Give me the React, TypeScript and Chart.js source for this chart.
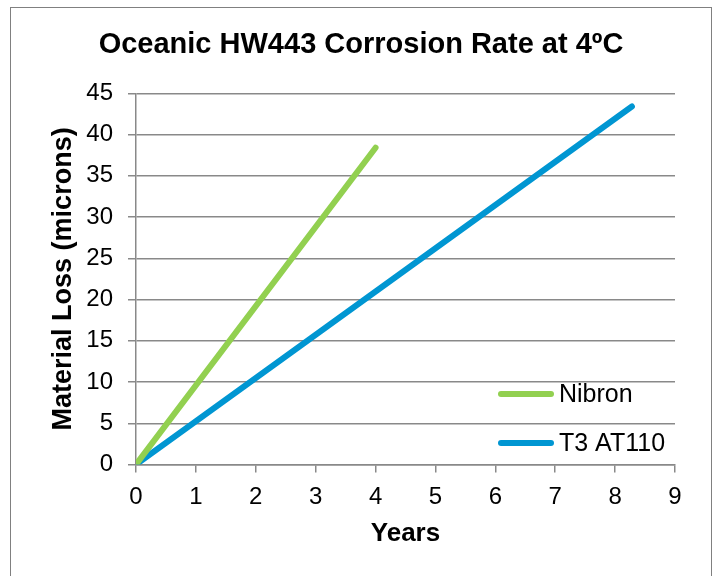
import React, { useEffect, useRef } from "react";
import { Chart, registerables } from "chart.js";

Chart.register(...registerables);

const chartTitle = "Oceanic HW443 Corrosion Rate at 4ºC";
const xTitle = "Years";
const yTitle = "Material Loss (microns)";

const seriesNames = ["Nibron", "T3 AT110"];
const seriesColors = ["#92D050", "#0096D2"];

const nibronYears = [0, 4.0];
const nibronLoss = [0, 38.4];
const t3Years = [0, 8.28];
const t3Loss = [0, 43.4];

const FONT = '"Liberation Sans", Arial, sans-serif';
const GRID = "#898989";

const legendPlugin = {
  id: "insideLegend",
  afterDraw(chart: any) {
    const { ctx, chartArea } = chart;
    ctx.save();
    ctx.font = `25px ${FONT}`;
    ctx.textBaseline = "middle";
    ctx.textAlign = "left";
    chart.data.datasets.forEach((ds: any, i: number) => {
      const y = chartArea.bottom - 70.5 + i * 49;
      const x0 = chartArea.right - 174;
      ctx.strokeStyle = ds.borderColor;
      ctx.lineWidth = 6;
      ctx.lineCap = "round";
      ctx.beginPath();
      ctx.moveTo(x0, y);
      ctx.lineTo(x0 + 50, y);
      ctx.stroke();
      ctx.fillStyle = "#000";
      ctx.fillText(ds.label, x0 + 58, y + 1);
    });
    ctx.restore();
  },
};

export default function App() {
  const ref = useRef<HTMLCanvasElement>(null);
  useEffect(() => {
    document.documentElement.style.overflow = "hidden";
    document.body.style.overflow = "hidden";
    const canvas = ref.current!;
    const toPts = (xs: number[], ys: number[]) => xs.map((x, i) => ({ x, y: ys[i] }));
    const chart = new Chart(canvas, {
      type: "line",
      data: {
        datasets: [
          {
            label: seriesNames[0],
            data: toPts(nibronYears, nibronLoss),
            borderColor: seriesColors[0],
            backgroundColor: seriesColors[0],
            borderWidth: 6,
            borderCapStyle: "round",
            pointRadius: 0,
            tension: 0,
          },
          {
            label: seriesNames[1],
            data: toPts(t3Years, t3Loss),
            borderColor: seriesColors[1],
            backgroundColor: seriesColors[1],
            borderWidth: 6,
            borderCapStyle: "round",
            pointRadius: 0,
            tension: 0,
          },
        ],
      },
      options: {
        responsive: false,
        animation: false,
        layout: { padding: { left: 0, right: 0, top: 0, bottom: 0 } },
        plugins: {
          legend: { display: false },
          tooltip: { enabled: false },
          title: {
            display: true,
            text: chartTitle,
            color: "#000",
            font: { family: FONT, size: 29, weight: "bold" },
            padding: { top: 20, bottom: 30.5 },
          },
        },
        scales: {
          x: {
            type: "linear",
            min: 0,
            max: 9,
            afterFit: (s: any) => {
              s.height = 111.5;
            },
            ticks: {
              stepSize: 1,
              color: "#000",
              padding: 10,
              font: { family: FONT, size: 24 },
            },
            grid: {
              drawOnChartArea: false,
              drawTicks: true,
              tickLength: 8,
              color: GRID,
              lineWidth: 1.5,
            },
            border: { display: true, color: GRID, width: 1.5 },
            title: {
              display: true,
              text: xTitle,
              color: "#000",
              font: { family: FONT, size: 26, weight: "bold" },
              padding: { top: 0, bottom: 27 },
            },
          },
          y: {
            type: "linear",
            min: 0,
            max: 45,
            afterFit: (s: any) => {
              s.width = 125;
            },
            ticks: {
              stepSize: 5,
              color: "#000",
              padding: 15,
              font: { family: FONT, size: 24 },
            },
            grid: {
              drawTicks: true,
              tickLength: 8,
              color: GRID,
              lineWidth: 1.5,
            },
            border: { display: true, color: GRID, width: 1.5 },
            title: {
              display: true,
              text: yTitle,
              color: "#000",
              font: { family: FONT, size: 27, weight: "bold" },
              padding: { top: 36, bottom: 0 },
            },
          },
          rightSpace: {
            type: "linear",
            position: "right",
            display: true,
            min: 0,
            max: 45,
            afterFit: (s: any) => {
              s.width = 36;
            },
            ticks: { display: false },
            grid: { display: false, drawTicks: false },
            border: { display: false },
          },
        },
      },
      plugins: [legendPlugin],
    } as any);
    return () => chart.destroy();
  }, []);

  return (
    <div
      style={{
        position: "fixed",
        left: 10,
        top: 7,
        width: 702,
        height: 569,
        boxSizing: "border-box",
        borderTop: "1px solid #808080",
        borderLeft: "1px solid #808080",
        borderRight: "1px solid #808080",
        background: "#fff",
      }}
    >
      <canvas ref={ref} width={700} height={568} style={{ display: "block" }} />
    </div>
  );
}
